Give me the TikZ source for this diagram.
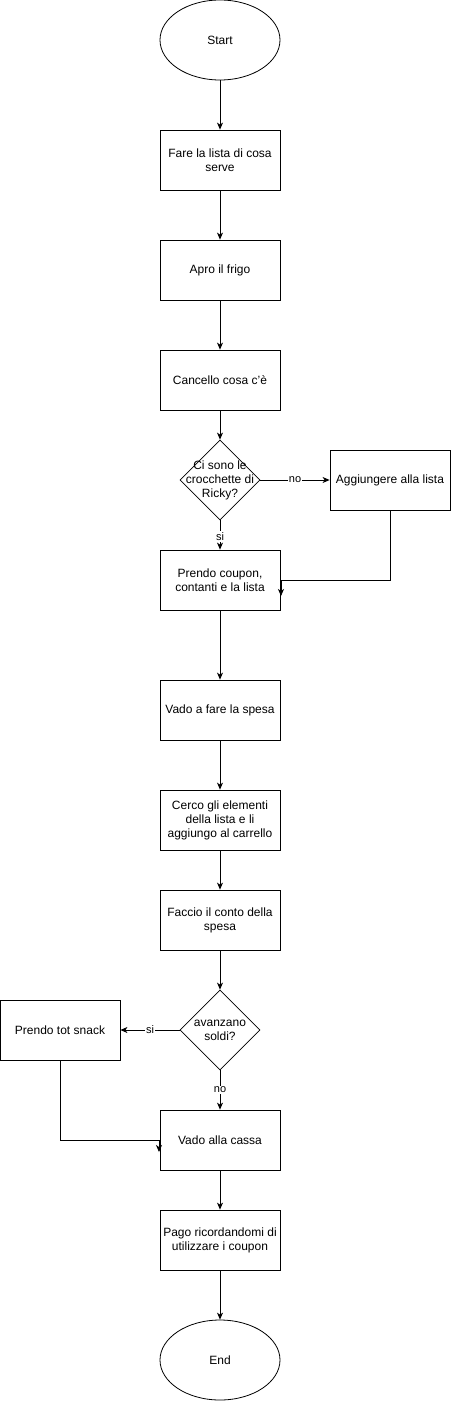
\documentclass[tikz,border=0pt]{standalone}
\usepackage{fontspec}
\setmainfont{Liberation Sans}
\usetikzlibrary{shapes.geometric,arrows.meta}
\begin{document}
\begin{tikzpicture}[x=1pt,y=-1pt,
  every node/.style={font=\fontsize{12}{14}\selectfont, align=center, inner sep=0pt},
  box/.style={draw, thick, minimum width=120pt, minimum height=60pt, rectangle},
  term/.style={draw, thick, ellipse, minimum width=120pt, minimum height=80pt},
  dec/.style={draw, thick, diamond, minimum width=80pt, minimum height=80pt, aspect=1},
  lbl/.style={fill=white, font=\fontsize{11}{13}\selectfont, inner sep=1pt},
  conn/.style={thick, -{Stealth[length=7pt,width=6pt,inset=2pt]}}]
\useasboundingbox (0,0) rectangle (452,1402);
\node[term] (start) at (220,40) {Start};
\node[box] (lista) at (220,160) {Fare la lista di cosa\\serve};
\node[box] (frigo) at (220,270) {Apro il frigo};
\node[box] (canc) at (220,380) {Cancello cosa c'è};
\node[dec] (d1) at (220,480) {};
\node at (220,480) {Ci sono le\\crocchette di\\Ricky?};
\node[box] (agg) at (390,480) {Aggiungere alla lista};
\node[box] (prendo) at (220,580) {Prendo coupon,\\contanti e la lista};
\node[box] (vado) at (220,710) {Vado a fare la spesa};
\node[box] (cerco) at (220,820) {Cerco gli elementi\\della lista e li\\aggiungo al carrello};
\node[box] (conto) at (220,920) {Faccio il conto della\\spesa};
\node[dec] (d2) at (220,1030) {};
\node at (220,1030) {avanzano\\soldi?};
\node[box] (snack) at (60,1030) {Prendo tot snack};
\node[box] (cassa) at (220,1140) {Vado alla cassa};
\node[box] (pago) at (220,1240) {Pago ricordandomi di\\utilizzare i coupon};
\node[term] (end) at (220,1360) {End};
\coordinate (c1) at (281,596);
\coordinate (c2) at (159,1152);
\draw[conn] (start) -- (lista);
\draw[conn] (lista) -- (frigo);
\draw[conn] (frigo) -- (canc);
\draw[conn] (canc) -- (d1);
\draw[conn] (d1) -- node[lbl] {no} (agg);
\draw[conn] (d1) -- node[lbl, pos=0.55] {si} (prendo);
\draw[conn] (agg.south) |- (281,580) -- (c1);
\draw[conn] (prendo) -- (vado);
\draw[conn] (vado) -- (cerco);
\draw[conn] (cerco) -- (conto);
\draw[conn] (conto) -- (d2);
\draw[conn] (d2) -- node[lbl] {si} (snack);
\draw[conn] (d2) -- node[lbl, pos=0.5] {no} (cassa);
\draw[conn] (snack.south) |- (159,1140) -- (c2);
\draw[conn] (cassa) -- (pago);
\draw[conn] (pago) -- (end);
\end{tikzpicture}
\end{document}
